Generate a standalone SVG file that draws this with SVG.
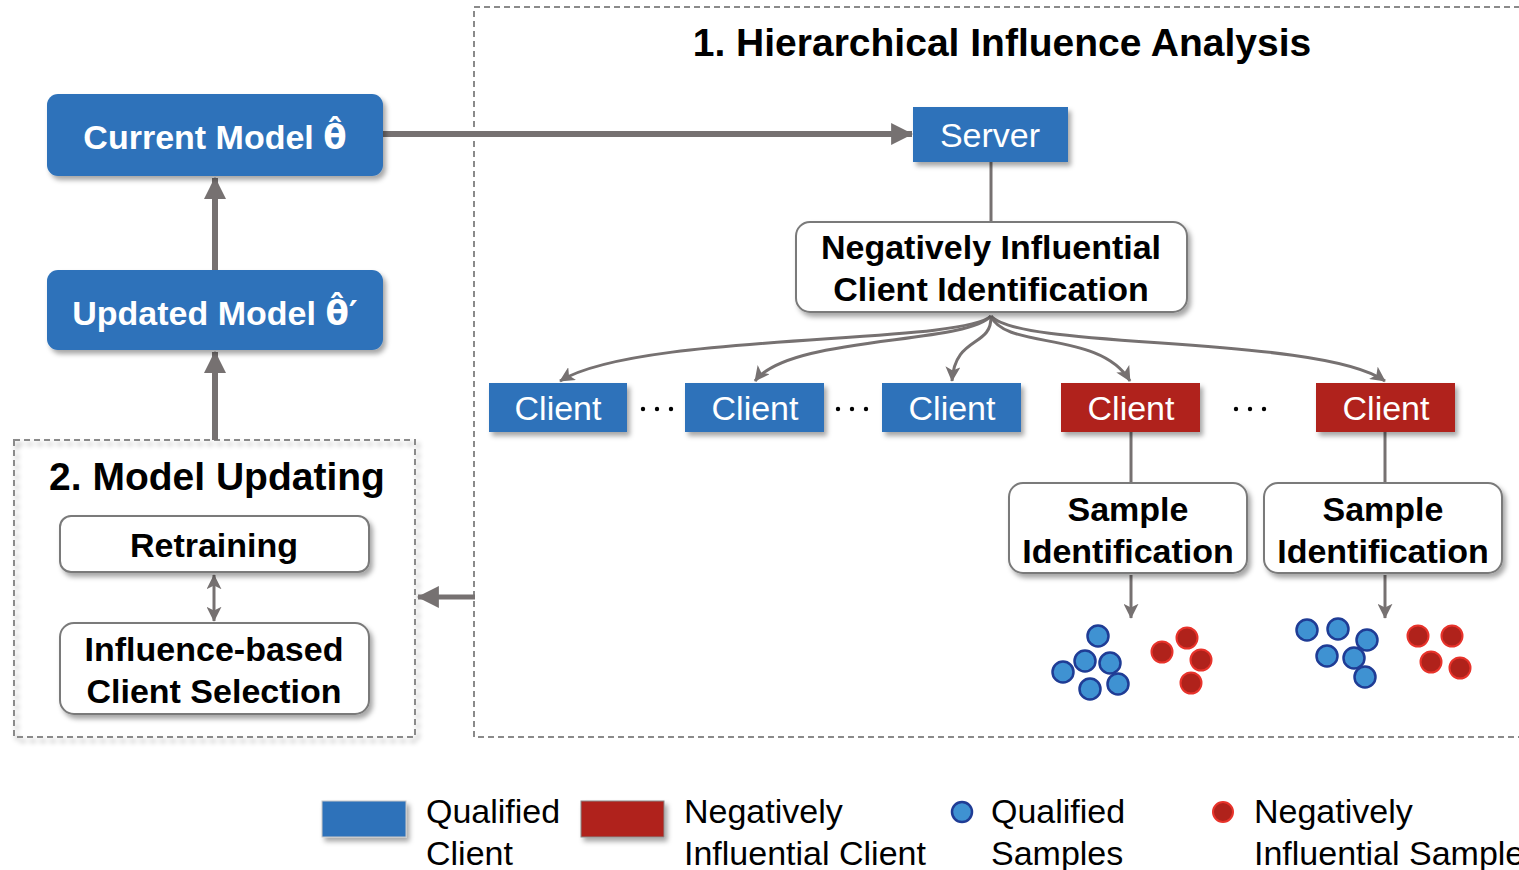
<svg xmlns="http://www.w3.org/2000/svg" width="1519" height="870" viewBox="0 0 1519 870">
<style>
  .bt{font-family:"Liberation Sans",Arial,sans-serif;font-weight:bold;font-size:34px;fill:#000;text-anchor:middle}
  .wt{font-family:"Liberation Sans",Arial,sans-serif;font-size:34px;fill:#fff;text-anchor:middle}
  .wb{font-family:"Liberation Sans",Arial,sans-serif;font-weight:bold;font-size:34px;fill:#fff;text-anchor:middle}
  .th{font-family:"DejaVu Sans",sans-serif;font-weight:bold}
  .title{font-family:"Liberation Sans",Arial,sans-serif;font-weight:bold;font-size:39px;fill:#000;text-anchor:middle}
  .lg{font-family:"Liberation Sans",Arial,sans-serif;font-size:34px;fill:#000}
  .blue{fill:#2E72BA}
  .red{fill:#B0221B}
  .wbox{fill:#fff;stroke:#7a7a7a;stroke-width:2}
  .dash{fill:none;stroke:#8a8a8a;stroke-width:2;stroke-dasharray:6 4}
  .thick{stroke:#767171;stroke-width:6;fill:none}
  .thin{stroke:#767171;stroke-width:3;fill:none}
  .bdot{fill:#3F92D2;stroke:#1F3C95;stroke-width:2.5}
  .rdot{fill:#B0221B;stroke:#E8332B;stroke-width:2}
</style>
<defs>
  <filter id="sh" x="-10%" y="-10%" width="130%" height="140%">
    <feDropShadow dx="3" dy="4" stdDeviation="2.5" flood-color="#000" flood-opacity="0.35"/>
  </filter>
  <marker id="big" viewBox="0 0 20 20" markerWidth="22" markerHeight="22" refX="19" refY="10" orient="auto" markerUnits="userSpaceOnUse">
    <path d="M0,0 L20,10 L0,20 z" fill="#767171"/>
  </marker>
  <marker id="sm" viewBox="0 0 20 20" markerWidth="15" markerHeight="15" refX="19" refY="10" orient="auto-start-reverse" markerUnits="userSpaceOnUse">
    <path d="M0,0 L20,10 L0,20 L5,10 z" fill="#767171"/>
  </marker>
</defs>
<rect width="1519" height="870" fill="#fff"/>

<g id="section1">
  <rect class="dash" x="474" y="7" width="1100" height="730"/>
  <text class="title" x="1002" y="56">1. Hierarchical Influence Analysis</text>
</g>
<g id="section2">
  <rect class="dash" x="14" y="440" width="401" height="297" filter="url(#sh)" fill="#fff"/>
  <text class="title" x="217" y="490">2. Model Updating</text>
</g>

<g id="connectors">
  <line class="thick" x1="383" y1="134" x2="912" y2="134" marker-end="url(#big)"/>
  <line class="thick" x1="215" y1="270" x2="215" y2="178" marker-end="url(#big)"/>
  <line class="thick" x1="215" y1="440" x2="215" y2="352" marker-end="url(#big)"/>
  <line class="thick" x1="475" y1="597" x2="418" y2="597" marker-end="url(#big)" style="stroke-width:5"/>
  <line class="thin" x1="214" y1="575" x2="214" y2="621" marker-start="url(#sm)" marker-end="url(#sm)"/>
  <line class="thin" x1="991" y1="162" x2="991" y2="222"/>
  <path class="thin" d="M991,316 C960,345 640,332 560,381" marker-end="url(#sm)"/>
  <path class="thin" d="M991,316 C965,345 790,335 755,381" marker-end="url(#sm)"/>
  <path class="thin" d="M991,316 C992,348 955,335 952,381" marker-end="url(#sm)"/>
  <path class="thin" d="M991,316 C1005,350 1100,330 1130,381" marker-end="url(#sm)"/>
  <path class="thin" d="M991,316 C1020,350 1320,335 1385,381" marker-end="url(#sm)"/>
  <line class="thin" x1="1131" y1="432" x2="1131" y2="483"/>
  <line class="thin" x1="1385" y1="432" x2="1385" y2="483"/>
  <line class="thin" x1="1131" y1="575" x2="1131" y2="618" marker-end="url(#sm)"/>
  <line class="thin" x1="1385" y1="575" x2="1385" y2="618" marker-end="url(#sm)"/>
</g>

<g id="current-model">
  <rect class="blue" x="47" y="94" width="336" height="82" rx="11" filter="url(#sh)"/>
  <text class="wb" x="215" y="149">Current Model <tspan class="th">θ̂</tspan></text>
</g>
<g id="updated-model">
  <rect class="blue" x="47" y="270" width="336" height="80" rx="11" filter="url(#sh)"/>
  <text class="wb" x="215" y="325">Updated Model <tspan class="th">θ̂′</tspan></text>
</g>
<g id="server">
  <rect class="blue" x="913" y="107" width="155" height="55" filter="url(#sh)"/>
  <text class="wt" x="990" y="147">Server</text>
</g>
<g id="nic">
  <rect class="wbox" x="796" y="222" width="391" height="90" rx="14" filter="url(#sh)"/>
  <text class="bt" x="991" y="259">Negatively Influential</text>
  <text class="bt" x="991" y="301">Client Identification</text>
</g>
<g id="client1">
  <rect class="blue" x="489" y="383" width="138" height="49" filter="url(#sh)"/>
  <text class="wt" x="558" y="420">Client</text>
</g>
<g id="client2">
  <rect class="blue" x="685" y="383" width="139" height="49" filter="url(#sh)"/>
  <text class="wt" x="755" y="420">Client</text>
</g>
<g id="client3">
  <rect class="blue" x="882" y="383" width="139" height="49" filter="url(#sh)"/>
  <text class="wt" x="952" y="420">Client</text>
</g>
<g id="client4">
  <rect class="red" x="1061" y="383" width="139" height="49" filter="url(#sh)"/>
  <text class="wt" x="1131" y="420">Client</text>
</g>
<g id="client5">
  <rect class="red" x="1316" y="383" width="139" height="49" filter="url(#sh)"/>
  <text class="wt" x="1386" y="420">Client</text>
</g>
<g id="ellipses" fill="#000">
  <circle cx="643" cy="409" r="2.2"/><circle cx="657" cy="409" r="2.2"/><circle cx="671" cy="409" r="2.2"/>
  <circle cx="838" cy="409" r="2.2"/><circle cx="852" cy="409" r="2.2"/><circle cx="866" cy="409" r="2.2"/>
  <circle cx="1236" cy="409" r="2.2"/><circle cx="1250" cy="409" r="2.2"/><circle cx="1264" cy="409" r="2.2"/>
</g>
<g id="sample-id-1">
  <rect class="wbox" x="1009" y="483" width="238" height="90" rx="14" filter="url(#sh)"/>
  <text class="bt" x="1128" y="521">Sample</text>
  <text class="bt" x="1128" y="563">Identification</text>
</g>
<g id="sample-id-2">
  <rect class="wbox" x="1264" y="483" width="238" height="90" rx="14" filter="url(#sh)"/>
  <text class="bt" x="1383" y="521">Sample</text>
  <text class="bt" x="1383" y="563">Identification</text>
</g>
<g id="samples-1">
  <circle class="bdot" cx="1098" cy="636" r="10.5"/>
  <circle class="bdot" cx="1063" cy="672" r="10.5"/>
  <circle class="bdot" cx="1085" cy="661" r="10.5"/>
  <circle class="bdot" cx="1110" cy="663" r="10.5"/>
  <circle class="bdot" cx="1090" cy="689" r="10.5"/>
  <circle class="bdot" cx="1118" cy="684" r="10.5"/>
  <circle class="rdot" cx="1187" cy="638" r="10.5"/>
  <circle class="rdot" cx="1162" cy="652" r="10.5"/>
  <circle class="rdot" cx="1201" cy="660" r="10.5"/>
  <circle class="rdot" cx="1191" cy="683" r="10.5"/>
</g>
<g id="samples-2">
  <circle class="bdot" cx="1307" cy="630" r="10.5"/>
  <circle class="bdot" cx="1338" cy="629" r="10.5"/>
  <circle class="bdot" cx="1367" cy="640" r="10.5"/>
  <circle class="bdot" cx="1327" cy="656" r="10.5"/>
  <circle class="bdot" cx="1354" cy="658" r="10.5"/>
  <circle class="bdot" cx="1365" cy="677" r="10.5"/>
  <circle class="rdot" cx="1418" cy="636" r="10.5"/>
  <circle class="rdot" cx="1452" cy="636" r="10.5"/>
  <circle class="rdot" cx="1431" cy="662" r="10.5"/>
  <circle class="rdot" cx="1460" cy="668" r="10.5"/>
</g>
<g id="retraining">
  <rect class="wbox" x="60" y="516" width="309" height="56" rx="11" filter="url(#sh)"/>
  <text class="bt" x="214" y="557">Retraining</text>
</g>
<g id="influence-selection">
  <rect class="wbox" x="60" y="623" width="309" height="91" rx="14" filter="url(#sh)"/>
  <text class="bt" x="214" y="661">Influence-based</text>
  <text class="bt" x="214" y="703">Client Selection</text>
</g>

<g id="legend">
  <rect class="blue" x="322" y="801" width="84" height="36" filter="url(#sh)" stroke="#c8c8c8" stroke-width="1"/>
  <text class="lg" x="426" y="823">Qualified</text>
  <text class="lg" x="426" y="865">Client</text>
  <rect class="red" x="581" y="801" width="83" height="36" filter="url(#sh)" stroke="#888" stroke-width="1"/>
  <text class="lg" x="684" y="823">Negatively</text>
  <text class="lg" x="684" y="865">Influential Client</text>
  <circle class="bdot" cx="962" cy="812" r="10"/>
  <text class="lg" x="991" y="823">Qualified</text>
  <text class="lg" x="991" y="865">Samples</text>
  <circle class="rdot" cx="1223" cy="812" r="10"/>
  <text class="lg" x="1254" y="823">Negatively</text>
  <text class="lg" x="1254" y="865">Influential Samples</text>
</g>
</svg>
